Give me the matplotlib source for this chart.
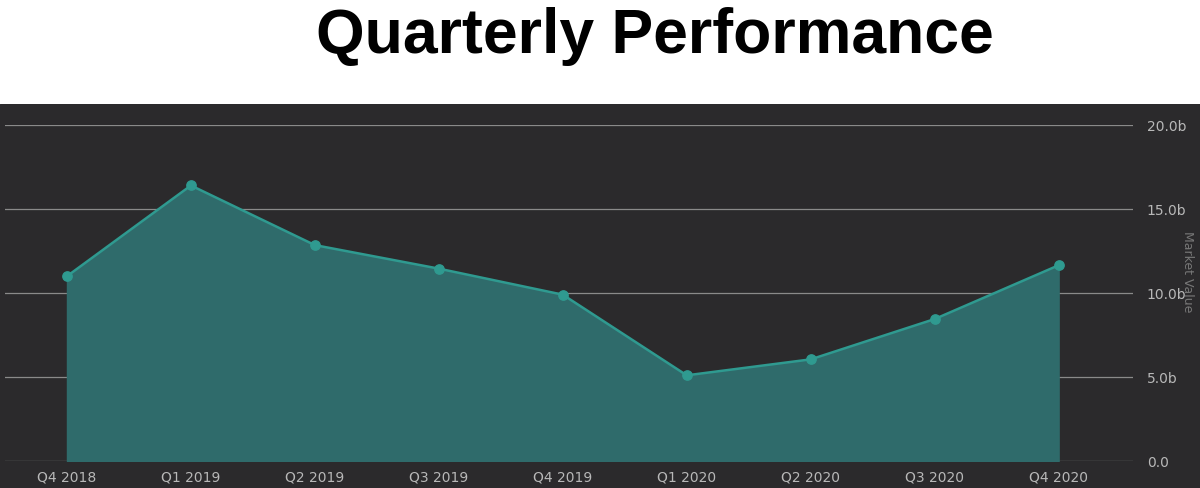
import matplotlib; matplotlib.use("Agg"); import matplotlib.pyplot as plt

quarters = ["Q4 2018", "Q1 2019", "Q2 2019", "Q3 2019", "Q4 2019",
            "Q1 2020", "Q2 2020", "Q3 2020", "Q4 2020"]
market_value = [11.0, 16.4, 12.85, 11.45, 9.9, 5.1, 6.05, 8.45, 11.65]
yticks = [0, 5, 10, 15, 20]
ytick_labels = ["0.0", "5.0b", "10.0b", "15.0b", "20.0b"]

BG = '#2b2a2c'; FILL = '#2f6b6b'; LINE = '#2f9a90'; GRID = '#8a8a8a'; TXT = '#b8b8b8'

fig = plt.figure(figsize=(12, 4.89), dpi=100, facecolor='white')
# dark panel behind the chart
bg = fig.add_axes([0, 0, 1, 1 - 105/489], zorder=0)
bg.set_facecolor(BG); bg.set_axis_off()
bg.add_patch(plt.Rectangle((0, 0), 1, 1, transform=bg.transAxes, color=BG))
fig.text(0.546, 0.925, "Quarterly Performance", ha='center', va='center',
         fontsize=45, fontweight='bold', family='Liberation Sans')

ax = fig.add_axes([5/1200, 1 - 462/489, 1128/1200, 336/489], zorder=1)
ax.patch.set_alpha(0)
x = list(range(len(quarters)))
ax.fill_between(x, market_value, 0, color=FILL, zorder=2)
ax.plot(x, market_value, color=LINE, lw=1.8, zorder=3)
ax.scatter(x, market_value, s=45, color=LINE, zorder=4)
ax.set_xlim(-0.5, 8.6); ax.set_ylim(0, 20)
for t in yticks:
    ax.axhline(t, color=GRID, lw=0.9, zorder=1)
ax.yaxis.tick_right()
ax.set_yticks(yticks, ytick_labels)
ax.set_xticks(x, quarters)
ax.tick_params(colors=TXT, labelsize=10, length=0)
ax.tick_params(axis='y', pad=10)
ax.tick_params(axis='x', pad=6)
for s in ax.spines.values(): s.set_visible(False)
fig.text(0.99, 0.445, "Market Value", rotation=270, ha='center', va='center',
         color='#777777', fontsize=9, zorder=5)
fig.savefig("out.png", dpi=100, facecolor='white')
